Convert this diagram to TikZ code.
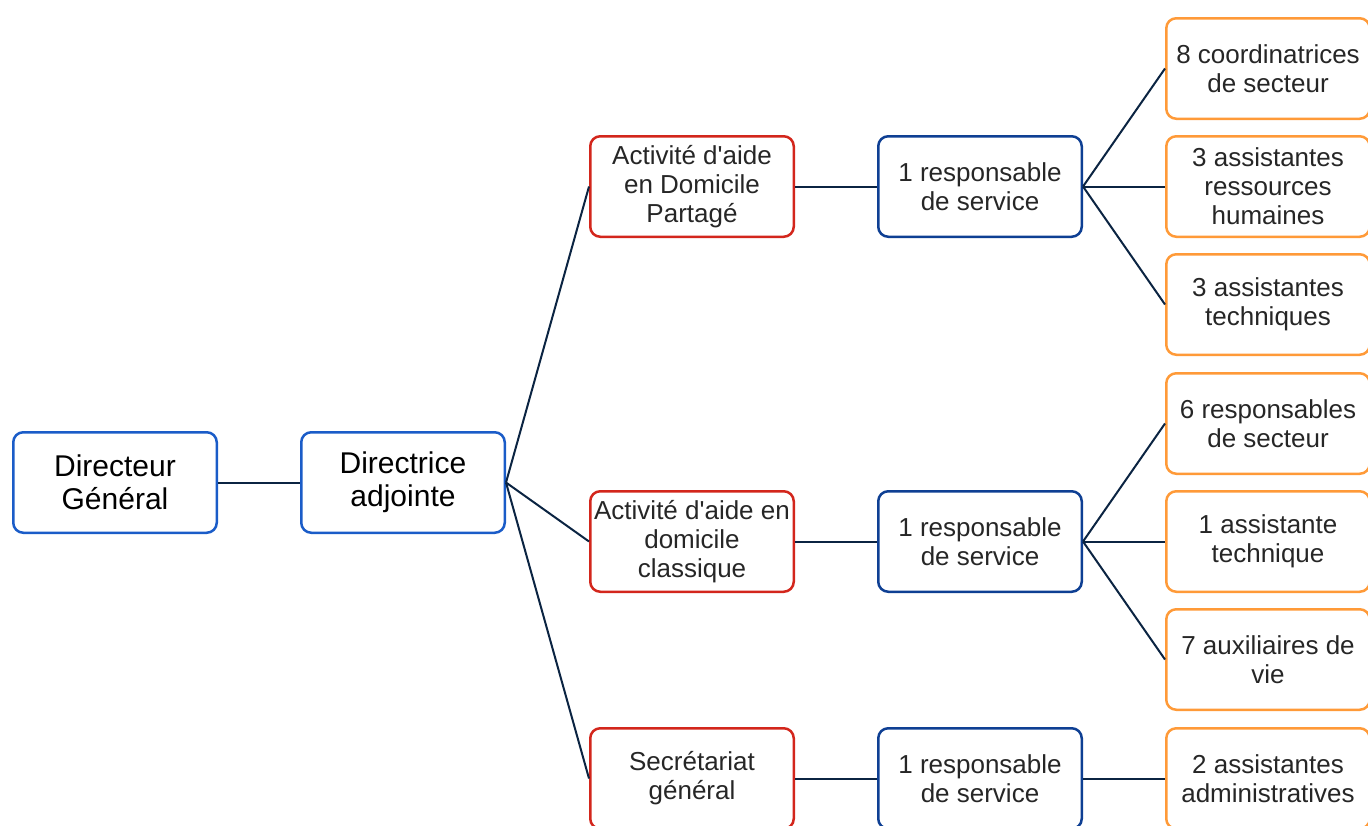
\documentclass[tikz,border=0pt]{standalone}
\usepackage{fontspec}
\setmainfont{Liberation Sans}
\usetikzlibrary{positioning}

\definecolor{headblue}{HTML}{1A5CC8}
\definecolor{actred}{HTML}{D3261C}
\definecolor{respblue}{HTML}{0E3F93}
\definecolor{stafforange}{HTML}{FF9A38}
\definecolor{linknavy}{HTML}{0B2442}

\begin{document}
\begin{tikzpicture}[node distance=41pt,
    box/.style={draw, rounded corners=5pt, line width=1.25pt, minimum width=101.75pt, minimum height=50.25pt, align=center, inner sep=1pt, font=\fontsize{13}{14.5}\selectfont, text=black!85},
    head/.style={box, draw=headblue, font=\fontsize{15}{16.5}\selectfont, text=black},
    branch/.style={box, draw=actred},
    resp/.style={box, draw=respblue},
    staff/.style={box, draw=stafforange},
    link/.style={draw=linknavy, line width=1pt}]
    \useasboundingbox (0,0) rectangle (684pt,-412.5pt);

    \node[head] (dg) at (57.5pt,-241.25pt) {Directeur\\Général};
    \node[head, right=of dg] (da) {Directrice\\adjointe};

    \node[branch] (act_1) at (346pt,-93.25pt) {Activité d\textquotesingle aide\\en Domicile\\Partagé};
    \node[branch] (act_2) at (346pt,-270.75pt) {Activité d\textquotesingle aide en\\domicile\\classique};
    \node[branch] (act_3) at (346pt,-389.25pt) {Secrétariat\\général};

    \node[resp, right=of act_1] (resp_1) {1 responsable\\de service};
    \node[resp, right=of act_2] (resp_2) {1 responsable\\de service};
    \node[resp, right=of act_3] (resp_3) {1 responsable\\de service};

    % staff column
    \node[staff, right=of resp_1] (staff_2) {3 assistantes\\ressources\\humaines};
    \node[staff, above=7.5pt of staff_2] (staff_1) {8 coordinatrices\\de secteur};
    \node[staff, below=7.5pt of staff_2] (staff_3) {3 assistantes\\techniques};
    \node[staff, right=of resp_2] (staff_5) {1 assistante\\technique};
    \node[staff, above=7.5pt of staff_5] (staff_4) {6 responsables\\de secteur};
    \node[staff, below=7.5pt of staff_5] (staff_6) {7 auxiliaires de\\vie};
    \node[staff, right=of resp_3] (staff_7) {2 assistantes\\administratives};

    \draw[link] (dg) -- (da);
    \draw[link] (da.east) -- (act_1.west);
    \draw[link] (da.east) -- (act_2.west);
    \draw[link] (da.east) -- (act_3.west);

    \draw[link] (act_1) -- (resp_1);
    \draw[link] (act_2) -- (resp_2);
    \draw[link] (act_3) -- (resp_3);

    \draw[link] (resp_1.east) -- (staff_1.west);
    \draw[link] (resp_1.east) -- (staff_2.west);
    \draw[link] (resp_1.east) -- (staff_3.west);
    \draw[link] (resp_2.east) -- (staff_4.west);
    \draw[link] (resp_2.east) -- (staff_5.west);
    \draw[link] (resp_2.east) -- (staff_6.west);
    \draw[link] (resp_3) -- (staff_7);
\end{tikzpicture}
\end{document}
